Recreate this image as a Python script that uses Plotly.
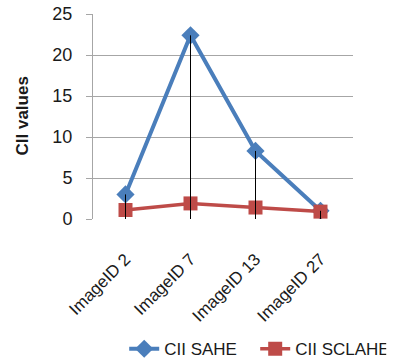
import plotly.graph_objects as go

categories = ["ImageID 2", "ImageID 7", "ImageID 13", "ImageID 27"]
cii_sahe = [3.0, 22.4, 8.3, 1.0]
cii_sclahe = [1.1, 1.9, 1.4, 0.9]
y_ticks = [0, 5, 10, 15, 20, 25]
y_title = "CII values"

font = "Liberation Sans"

fig = go.Figure()
fig.add_trace(go.Scatter(
    x=categories, y=cii_sahe, name="CII SAHE", mode="lines+markers",
    line=dict(color="#4A7EBB", width=4),
    marker=dict(symbol="diamond", size=14, color="#4A7EBB"),
))
fig.add_trace(go.Scatter(
    x=categories, y=cii_sclahe, name="CII SCLAHE", mode="lines+markers",
    line=dict(color="#BE4B48", width=3.5),
    marker=dict(symbol="square", size=14, color="#BE4B48"),
))

# drop lines from highest point of each category to axis
dx, dy = [], []
for c, a, b in zip(categories, cii_sahe, cii_sclahe):
    dx += [c, c, None]
    dy += [0, max(a, b), None]
fig.add_trace(go.Scatter(
    x=dx, y=dy, mode="lines", showlegend=False, hoverinfo="skip",
    line=dict(color="black", width=1),
))

fig.update_layout(
    width=393, height=360,
    margin=dict(l=93, r=40, t=14, b=141),
    paper_bgcolor="white", plot_bgcolor="white",
    font=dict(family=font, size=18, color="#1a1a1a"),
    showlegend=True,
    legend=dict(orientation="h", x=0.12, xanchor="left",
                yref="container", y=0.03, yanchor="middle",
                font=dict(size=17), traceorder="normal",
                entrywidth=86, entrywidthmode="pixels",
                bgcolor="rgba(0,0,0,0)"),
    annotations=[dict(
        text="<b>" + y_title + "</b>", textangle=-90,
        xref="paper", yref="paper", x=-0.273, y=0.5,
        xanchor="center", yanchor="middle", showarrow=False,
        font=dict(size=17, color="#1a1a1a"),
    )],
)
fig.update_xaxes(
    type="category", tickangle=-45, showgrid=False, zeroline=False,
    showline=False, ticks="", tickfont=dict(size=17),
    range=[-0.5, 3.5], automargin=False, ticklabelstandoff=26,
)
fig.update_yaxes(
    range=[0, 25], tickvals=y_ticks, showgrid=True, gridcolor="#A6A6A6",
    gridwidth=1, zeroline=False, showline=True, linecolor="#A6A6A6",
    ticks="outside", ticklen=6, tickcolor="#A6A6A6", tickfont=dict(size=18),
    automargin=False, ticklabelstandoff=10,
)

fig.write_html("out.html")
